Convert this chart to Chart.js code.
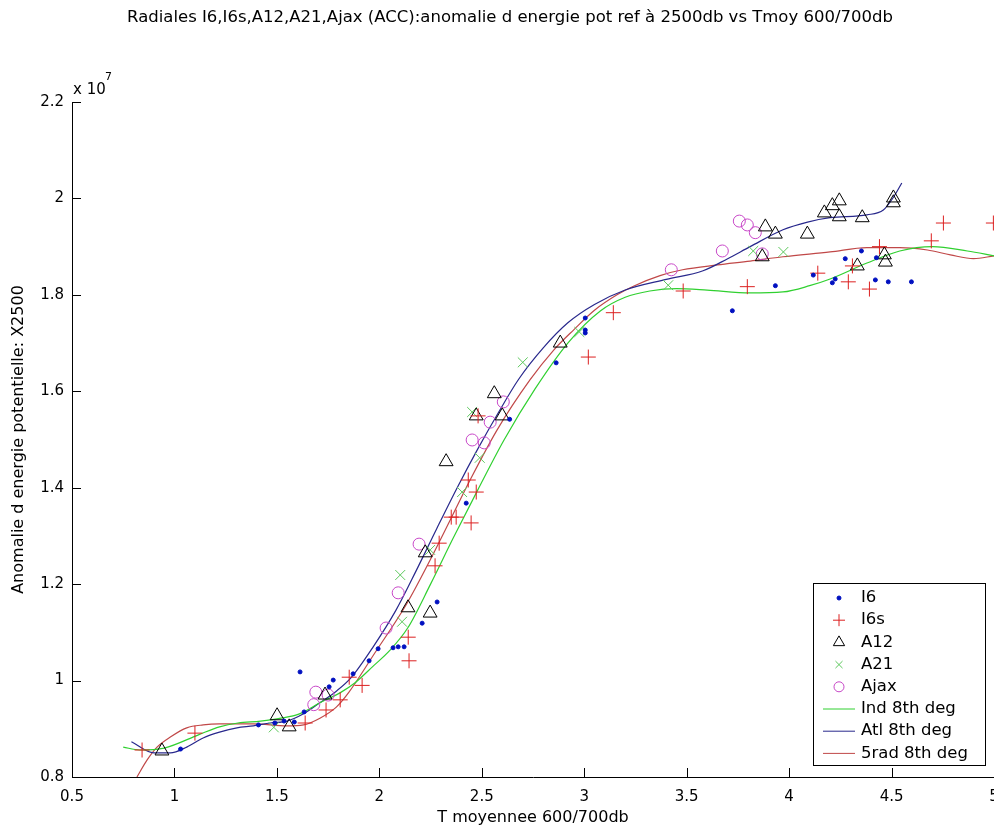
<!DOCTYPE html>
<html>
<head>
<meta charset="utf-8">
<script src="https://cdn.jsdelivr.net/npm/chart.js@4.4.1/dist/chart.umd.min.js"></script>
<style>
  html, body { margin: 0; padding: 0; background: #fff; }
  #wrap { width: 994px; height: 828px; }
</style>
</head>
<body>
<div id="wrap"><canvas id="chart" width="994" height="828"></canvas></div>
<script>
// --- DATA (y in units of 10^7) ---
const xTicks = [0.5, 1, 1.5, 2, 2.5, 3, 3.5, 4, 4.5, 5];
const xTickLabels = ['0.5', '1', '1.5', '2', '2.5', '3', '3.5', '4', '4.5', '5'];
const yTicks = [0.8, 1, 1.2, 1.4, 1.6, 1.8, 2, 2.2];
const yTickLabels = ['0.8', '1', '1.2', '1.4', '1.6', '1.8', '2', '2.2'];

const i6X = [1.03, 1.41, 1.49, 1.535, 1.585, 1.613, 1.633, 1.755, 1.775, 1.872, 1.95, 1.994, 2.067, 2.092, 2.121, 2.209, 2.282, 2.424, 2.636, 2.863, 3.005, 3.005, 3.005, 3.723, 3.933, 4.118, 4.211, 4.225, 4.274, 4.353, 4.426, 4.421, 4.484, 4.597];
const i6Y = [0.858, 0.908, 0.912, 0.916, 0.914, 1.018, 0.935, 0.987, 1.001, 1.014, 1.041, 1.066, 1.068, 1.07, 1.07, 1.119, 1.163, 1.368, 1.542, 1.659, 1.752, 1.727, 1.721, 1.767, 1.819, 1.841, 1.825, 1.833, 1.875, 1.891, 1.877, 1.831, 1.827, 1.827];

const i6sX = [0.842, 1.10, 1.638, 1.74, 1.809, 1.853, 1.916, 2.141, 2.145, 2.272, 2.292, 2.351, 2.375, 2.434, 2.448, 2.473, 2.482, 3.02, 3.142, 3.483, 3.796, 4.14, 4.289, 4.309, 4.392, 4.441, 4.694, 4.753, 4.997];
const i6sY = [0.856, 0.891, 0.912, 0.939, 0.960, 1.007, 0.990, 1.09, 1.041, 1.238, 1.285, 1.339, 1.339, 1.416, 1.327, 1.391, 1.549, 1.671, 1.763, 1.808, 1.817, 1.845, 1.827, 1.86, 1.812, 1.9, 1.912, 1.949, 1.949];

const a12X = [0.939, 1.501, 1.56, 1.735, 2.14, 2.224, 2.248, 2.326, 2.473, 2.561, 2.6, 2.883, 3.869, 3.884, 3.933, 4.089, 4.172, 4.211, 4.245, 4.245, 4.357, 4.333, 4.465, 4.47, 4.509, 4.509];
const a12Y = [0.854, 0.927, 0.904, 0.970, 1.151, 1.265, 1.14, 1.454, 1.549, 1.595, 1.549, 1.70, 1.879, 1.941, 1.926, 1.926, 1.97, 1.985, 1.995, 1.962, 1.96, 1.86, 1.883, 1.868, 2.001, 1.991];

const a21X = [1.485, 2.102, 2.111, 2.248, 2.404, 2.453, 2.49, 2.70, 2.976, 3.41, 3.825, 3.972];
const a21Y = [0.903, 1.219, 1.122, 1.271, 1.391, 1.557, 1.462, 1.66, 1.723, 1.82, 1.891, 1.889];

const ajaxX = [1.69, 1.68, 1.75, 2.033, 2.092, 2.194, 2.453, 2.512, 2.541, 2.605, 3.425, 3.674, 3.757, 3.796, 3.835, 3.869];
const ajaxY = [0.976, 0.95, 0.97, 1.109, 1.182, 1.283, 1.499, 1.493, 1.536, 1.578, 1.852, 1.891, 1.953, 1.945, 1.929, 1.885];

// fitted curves
const indX = [0.75, 0.83, 0.95, 1.12, 1.22, 1.31, 1.42, 1.52, 1.61, 1.71, 1.81, 1.88, 1.97, 2.05, 2.14, 2.25, 2.36, 2.48, 2.61, 2.76, 2.92, 3.08, 3.2, 3.32, 3.45, 3.6, 3.81, 3.97, 4.1, 4.2, 4.38, 4.54, 4.7, 4.87, 5.0];
const indY = [0.862, 0.856, 0.860, 0.888, 0.904, 0.912, 0.916, 0.922, 0.931, 0.954, 0.975, 0.995, 1.03, 1.062, 1.11, 1.20, 1.295, 1.395, 1.50, 1.605, 1.70, 1.767, 1.795, 1.808, 1.813, 1.81, 1.804, 1.806, 1.819, 1.833, 1.866, 1.891, 1.90, 1.891, 1.881];

const atlX = [0.79, 0.9, 0.98, 1.06, 1.14, 1.22, 1.305, 1.385, 1.467, 1.55, 1.63, 1.71, 1.79, 1.86, 1.97, 2.08, 2.18, 2.28, 2.38, 2.48, 2.58, 2.68, 2.80, 2.92, 3.05, 3.2, 3.4, 3.58, 3.7, 3.81, 3.97, 4.09, 4.2, 4.38, 4.46, 4.51, 4.55];
const atlY = [0.873, 0.85, 0.85, 0.862, 0.881, 0.893, 0.902, 0.906, 0.912, 0.916, 0.931, 0.954, 0.978, 1.005, 1.07, 1.145, 1.228, 1.315, 1.40, 1.48, 1.555, 1.625, 1.69, 1.742, 1.78, 1.81, 1.832, 1.85, 1.875, 1.90, 1.935, 1.951, 1.96, 1.966, 1.976, 2.003, 2.032];

const radX = [0.817, 0.866, 0.915, 0.98, 1.06, 1.14, 1.22, 1.385, 1.55, 1.63, 1.71, 1.79, 1.85, 1.97, 2.136, 2.248, 2.346, 2.443, 2.575, 2.736, 2.85, 2.95, 3.05, 3.16, 3.24, 3.37, 3.48, 3.65, 3.81, 3.97, 4.2, 4.38, 4.54, 4.675, 4.787, 4.9, 5.0];
const radY = [0.80, 0.835, 0.862, 0.883, 0.902, 0.908, 0.91, 0.91, 0.906, 0.908, 0.922, 0.945, 0.975, 1.052, 1.161, 1.25, 1.333, 1.416, 1.52, 1.624, 1.685, 1.728, 1.768, 1.80, 1.818, 1.84, 1.852, 1.862, 1.87, 1.879, 1.889, 1.898, 1.898, 1.893, 1.883, 1.875, 1.881];

const pairs = (xs, ys) => xs.map((x, i) => ({ x: x, y: ys[i] }));

const FONT = 'DejaVu Sans';
const clear = 'rgba(0,0,0,0)';

const markerSet = (label, xs, ys, style, radius, color, fill) => ({
    label: label,
    data: pairs(xs, ys),
    showLine: false,
    pointStyle: style,
    pointRadius: radius,
    pointBorderWidth: 1,
    pointBorderColor: color,
    pointBackgroundColor: fill || clear,
    borderColor: color
});

const curveSet = (label, xs, ys, color) => ({
    label: label,
    data: pairs(xs, ys),
    showLine: true,
    borderColor: color,
    borderWidth: 1.2,
    pointRadius: 0,
    cubicInterpolationMode: 'monotone',
    fill: false
});

const datasets = [
    markerSet('I6', i6X, i6Y, 'circle', 2, '#0010c0', '#0010c0'),
    markerSet('I6s', i6sX, i6sY, 'cross', 7.5, '#dc2020'),
    markerSet('A12', a12X, a12Y, 'triangle', 8, '#000000'),
    markerSet('A21', a21X, a21Y, 'crossRot', 7, '#5cc85c'),
    markerSet('Ajax', ajaxX, ajaxY, 'circle', 6, '#c848c8'),
    curveSet('Ind 8th deg', indX, indY, '#30d030'),
    curveSet('Atl 8th deg', atlX, atlY, '#28288c'),
    curveSet('5rad 8th deg', radX, radY, '#c04848')
];

// --- small marker painter for the legend ---
const paintMarker = (ctx, style, x, y, r) => {
    ctx.beginPath();
    if (style === 'circle') {
        ctx.arc(x, y, r, 0, Math.PI * 2);
    } else if (style === 'cross') {
        ctx.moveTo(x - r, y); ctx.lineTo(x + r, y);
        ctx.moveTo(x, y - r); ctx.lineTo(x, y + r);
    } else if (style === 'crossRot') {
        const d = r * Math.SQRT1_2;
        ctx.moveTo(x - d, y - d); ctx.lineTo(x + d, y + d);
        ctx.moveTo(x - d, y + d); ctx.lineTo(x + d, y - d);
    } else if (style === 'triangle') {
        ctx.moveTo(x, y - r);
        ctx.lineTo(x + r * Math.sqrt(3) / 2, y + r / 2);
        ctx.lineTo(x - r * Math.sqrt(3) / 2, y + r / 2);
        ctx.closePath();
    }
};

const decorations = {
    id: 'decorations',
    afterDraw(chart) {
        const ctx = chart.ctx;
        const area = chart.chartArea;
        const xs = chart.scales.x;
        const ys = chart.scales.y;
        ctx.save();

        // inward tick marks
        ctx.strokeStyle = '#000';
        ctx.lineWidth = 1;
        ctx.beginPath();
        xTicks.forEach(v => {
            const p = Math.round(xs.getPixelForValue(v)) + 0.5;
            ctx.moveTo(p, area.bottom); ctx.lineTo(p, area.bottom - 9);
        });
        yTicks.forEach(v => {
            const p = Math.round(ys.getPixelForValue(v)) + 0.5;
            ctx.moveTo(area.left, p); ctx.lineTo(area.left + 9, p);
        });
        ctx.stroke();

        // title
        ctx.fillStyle = '#000';
        ctx.textBaseline = 'middle';
        ctx.textAlign = 'center';
        ctx.font = '16.5px "' + FONT + '"';
        ctx.fillText('Radiales I6,I6s,A12,A21,Ajax (ACC):anomalie d energie pot ref à 2500db vs Tmoy 600/700db', 510, 18);

        // exponent
        ctx.textAlign = 'left';
        ctx.textBaseline = 'alphabetic';
        ctx.font = '15px "' + FONT + '"';
        ctx.fillText('x 10', area.left + 1, area.top - 8);
        ctx.font = '11px "' + FONT + '"';
        ctx.fillText('7', area.left + 33, area.top - 22);

        // legend box
        const bx = area.right - 181, by = area.top + 481, bw = 172, bh = 182;
        ctx.fillStyle = '#fff';
        ctx.fillRect(bx, by, bw, bh);
        ctx.strokeStyle = '#000';
        ctx.strokeRect(bx + 0.5, by + 0.5, bw, bh);
        ctx.font = '16.5px "' + FONT + '"';
        ctx.textBaseline = 'middle';
        chart.data.datasets.forEach((ds, i) => {
            const ry = by + 15 + i * 22.2;
            const cx = bx + 26;
            ctx.lineWidth = 1;
            if (ds.showLine) {
                ctx.strokeStyle = ds.borderColor;
                ctx.beginPath();
                ctx.moveTo(bx + 10, ry); ctx.lineTo(bx + 42, ry);
                ctx.stroke();
            } else {
                ctx.strokeStyle = ds.pointBorderColor;
                ctx.fillStyle = ds.pointBackgroundColor;
                const r = ds.label === 'I6' ? 2 : ds.label === 'A12' ? 6.5 : ds.label === 'I6s' ? 6 : 5;
                paintMarker(ctx, ds.pointStyle, cx, ry, r);
                ctx.fill();
                ctx.stroke();
            }
            ctx.fillStyle = '#000';
            ctx.fillText(ds.label, bx + 48, ry);
        });
        ctx.restore();
    }
};

new Chart(document.getElementById('chart'), {
    type: 'scatter',
    data: { datasets: datasets },
    options: {
        responsive: false,
        animation: false,
        layout: { autoPadding: false, padding: { top: 102, left: 0, right: 0, bottom: 0 } },
        plugins: {
            legend: { display: false },
            tooltip: { enabled: false },
            title: { display: false }
        },
        scales: {
            x: {
                type: 'linear',
                min: 0.5,
                max: 5,
                afterBuildTicks: (s) => { s.ticks = xTicks.map(v => ({ value: v })); },
                afterFit: (s) => { s.height = 51; s.paddingLeft = 0; s.paddingRight = 0; },
                ticks: {
                    callback: (v, i) => xTickLabels[i],
                    color: '#000',
                    font: { family: FONT, size: 15 },
                    padding: 11,
                    maxRotation: 0,
                    autoSkip: false
                },
                grid: { display: true, drawOnChartArea: false, drawTicks: false },
                border: { display: true, color: '#000', width: 1 },
                title: {
                    display: true,
                    text: 'T moyennee 600/700db',
                    color: '#000',
                    font: { family: FONT, size: 16 },
                    padding: { top: 0, bottom: 1 }
                }
            },
            y: {
                type: 'linear',
                min: 0.8,
                max: 2.2,
                afterBuildTicks: (s) => { s.ticks = yTicks.map(v => ({ value: v })); },
                afterFit: (s) => { s.width = 72; s.paddingTop = 0; s.paddingBottom = 0; },
                ticks: {
                    callback: (v, i) => yTickLabels[i],
                    color: '#000',
                    font: { family: FONT, size: 15 },
                    padding: 8,
                    autoSkip: false
                },
                grid: { display: true, drawOnChartArea: false, drawTicks: false },
                border: { display: true, color: '#000', width: 1 },
                title: {
                    display: true,
                    text: 'Anomalie d energie potentielle: X2500',
                    color: '#000',
                    font: { family: FONT, size: 16 },
                    padding: { top: 9, bottom: 0 }
                }
            }
        }
    },
    plugins: [decorations]
});
</script>
</body>
</html>
